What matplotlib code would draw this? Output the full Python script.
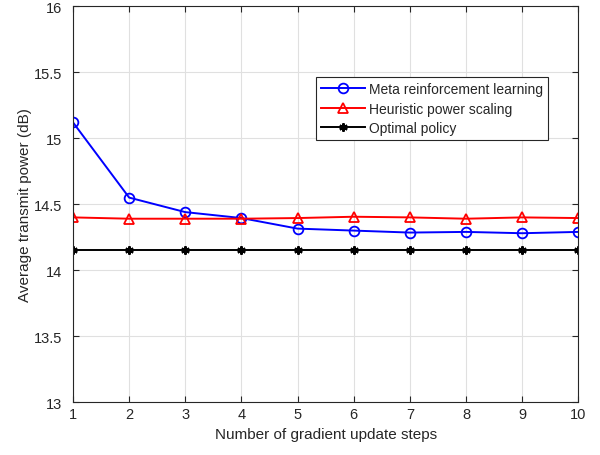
import matplotlib
matplotlib.use("Agg")
import matplotlib.pyplot as plt

plt.rcParams["font.family"] = ["Liberation Sans", "DejaVu Sans"]

steps = [1, 2, 3, 4, 5, 6, 7, 8, 9, 10]
meta_rl = [15.12, 14.55, 14.44, 14.395, 14.315, 14.30, 14.285, 14.29, 14.28, 14.29]
heuristic = [14.40, 14.39, 14.39, 14.39, 14.395, 14.405, 14.40, 14.39, 14.40, 14.395]
optimal = [14.15, 14.15, 14.15, 14.15, 14.15, 14.15, 14.15, 14.15, 14.15, 14.15]

fig = plt.figure(figsize=(6.0, 4.56), dpi=100)
ax = fig.add_axes([0.1217, 0.116, 0.842, 0.868])

ax.plot(steps, meta_rl, color="#0000ff", marker="o", markersize=7, markerfacecolor="none",
        markeredgewidth=1.3, linewidth=1.4, label="Meta reinforcement learning")
ax.plot(steps, heuristic, color="#ff0000", marker="^", markersize=7, markerfacecolor="none",
        markeredgewidth=1.3, linewidth=1.4, label="Heuristic power scaling")
# MATLAB-style asterisk marker
ax.plot(steps, optimal, color="black", marker=(6, 2, 0), markersize=6, markeredgewidth=1.5,
        linewidth=1.4, label="Optimal policy")

ax.set_xlim(1, 10)
ax.set_ylim(13, 16)
ax.set_xticks(steps)
ax.set_yticks([13, 13.5, 14, 14.5, 15, 15.5, 16])
ax.set_yticklabels(["13", "13.5", "14", "14.5", "15", "15.5", "16"])
ax.grid(True, color="#e0e0e0", linewidth=0.8)
ax.set_axisbelow(True)
ax.tick_params(direction="in", length=4, labelsize=10.5, colors="#262626", top=True, right=True)
ax.tick_params(axis="y", pad=8)
for s in ax.spines.values():
    s.set_color("#262626")
    s.set_linewidth(0.8)

ax.set_xlabel("Number of gradient update steps", fontsize=11, color="#262626")
ax.set_ylabel("Average transmit power (dB)", fontsize=11, color="#262626", labelpad=1)

leg = ax.legend(loc="upper left", bbox_to_anchor=(0.481, 0.821), fontsize=10,
                frameon=True, fancybox=False, edgecolor="#262626", framealpha=1,
                borderpad=0.35, labelspacing=0.4, handlelength=3.2, handletextpad=0.3,
                borderaxespad=0)
leg.get_frame().set_linewidth(0.8)
for t in leg.get_texts():
    t.set_color("#262626")

fig.savefig("out.png", dpi=100, facecolor="white")
